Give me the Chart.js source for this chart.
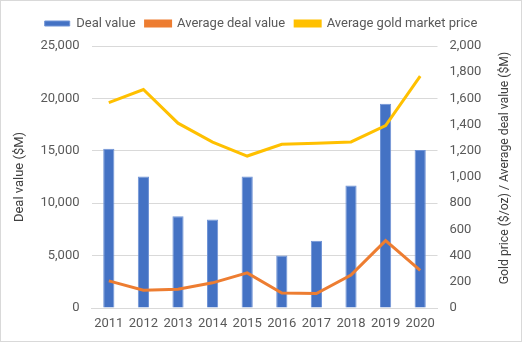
<!DOCTYPE html>
<html><head><meta charset="utf-8">
<script src="https://cdn.jsdelivr.net/npm/chart.js@4/dist/chart.umd.min.js"></script>
<style>
html,body{margin:0;padding:0;background:#fff;}
#wrap{position:relative;width:520px;height:340px;border:1px solid #d9d9d9;}
</style></head>
<body><div id="wrap"><canvas id="c" width="520" height="340"></canvas></div>
<script>
const years = ['2011','2012','2013','2014','2015','2016','2017','2018','2019','2020'];
const dealValue = [15200, 12550, 8750, 8450, 12550, 5000, 6420, 11700, 19500, 15080];
const avgDealValue = [207, 136, 143, 192, 268, 115, 110, 251, 514, 287];
const goldPrice = [1568, 1668, 1411, 1266, 1160, 1250, 1257, 1268, 1393, 1770];
const leftTicks = [0, 5000, 10000, 15000, 20000, 25000];
const rightTicks = [0, 200, 400, 600, 800, 1000, 1200, 1400, 1600, 1800, 2000];
const rightTitle = 'Gold price ($/oz) / Average deal value ($M)';

const FONT = "Roboto, 'Liberation Sans', sans-serif";
Chart.defaults.font.family = FONT;
Chart.defaults.font.size = 13;
Chart.defaults.color = '#595959';

const legendGap = {
  id:'legendGap',
  beforeInit(chart){
    const fit = chart.legend.fit;
    chart.legend.fit = function(){ fit.call(this); this.height += 6; };
  }
};
const rightTitlePlugin = {
  id:'rightTitle',
  afterDraw(chart){
    const ctx = chart.ctx, s = chart.scales.y1;
    ctx.save();
    ctx.font = '12.2px ' + FONT;
    ctx.fillStyle = '#404040';
    ctx.textAlign = 'center';
    ctx.textBaseline = 'middle';
    ctx.translate(s.right - 16, (chart.chartArea.top + chart.chartArea.bottom)/2 - 9);
    ctx.rotate(-Math.PI/2);
    ctx.fillText(rightTitle, 0, 0);
    ctx.restore();
  }
};

new Chart(document.getElementById('c'), {
  data: {
    labels: years,
    datasets: [
      {type:'bar', label:'Deal value', data: dealValue, backgroundColor:'#4472C4', borderColor:'#6f93d6', borderWidth:1, yAxisID:'y', order:3, barPercentage:0.34, categoryPercentage:0.95},
      {type:'line', label:'Average deal value', data: avgDealValue, borderColor:'#ED7D31', backgroundColor:'#ED7D31', borderWidth:3, pointRadius:0, yAxisID:'y1', order:1, tension:0},
      {type:'line', label:'Average gold market price', data: goldPrice, borderColor:'#FFC000', backgroundColor:'#FFC000', borderWidth:3, pointRadius:0, yAxisID:'y1', order:2, tension:0}
    ]
  },
  plugins:[legendGap, rightTitlePlugin],
  options: {
    responsive:false, animation:false,
    layout:{padding:{top:6,left:0,right:0,bottom:0}},
    plugins:{
      legend:{position:'top', labels:{boxWidth:25, boxHeight:5, padding:10, font:{size:13}, color:'#595959', sort:(a,b)=>a.datasetIndex-b.datasetIndex}},
      tooltip:{enabled:false}
    },
    scales:{
      x:{grid:{display:false, drawTicks:false}, border:{color:'#d9d9d9'},
         afterFit: s => { s.height = 33; },
         ticks:{padding:8, color:'#595959', maxRotation:0, minRotation:0, autoSkip:false}},
      y:{position:'left', min:0, max:25000,
         afterBuildTicks: s => { s.ticks = leftTicks.map(v=>({value:v})); },
         afterFit: s => { s.width = 90.5; },
         ticks:{padding:12, callback:v=>v.toLocaleString('en-US')},
         grid:{color:'#d9d9d9', drawTicks:false}, border:{display:false},
         title:{display:true, text:'Deal value ($M)', font:{size:13}, color:'#404040', padding:{top:11,bottom:0}}},
      y1:{position:'right', min:0, max:2000,
         afterBuildTicks: s => { s.ticks = rightTicks.map(v=>({value:v})); },
         afterFit: s => { s.width = 83.5; },
         ticks:{padding:12, callback:v=>v.toLocaleString('en-US')},
         grid:{display:false, drawTicks:false}, border:{display:false},
         title:{display:false}}
    }
  }
});
</script></body></html>
